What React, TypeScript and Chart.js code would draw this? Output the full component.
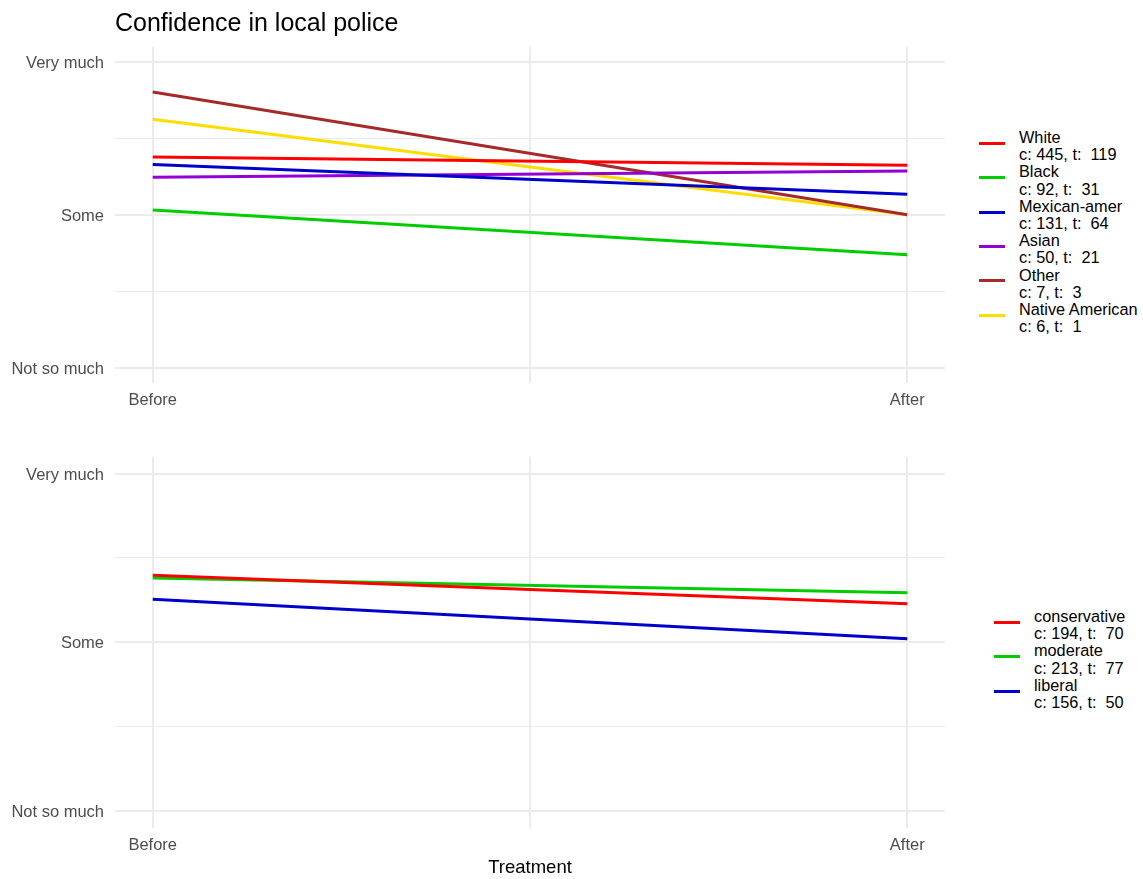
import React, { useEffect, useRef } from 'react';
import { Chart, registerables } from 'chart.js';

Chart.register(...registerables);

// ---- data ----
const xLabels = ['Before', 'After'];
const yLabels = ['Not so much', 'Some', 'Very much'];

const raceNames = ['White', 'Black', 'Mexican-amer', 'Asian', 'Other', 'Native American'];
const raceCounts = ['c: 445, t:  119', 'c: 92, t:  31', 'c: 131, t:  64', 'c: 50, t:  21', 'c: 7, t:  3', 'c: 6, t:  1'];
const raceColors = ['#FF0000', '#00CD00', '#0000CD', '#9400D3', '#A52A2A', '#FFDD00'];
const whiteVals = [2.379, 2.325];
const blackVals = [2.031, 1.739];
const mexicanVals = [2.329, 2.134];
const asianVals = [2.246, 2.287];
const otherVals = [2.803, 2.0];
const nativeVals = [2.626, 2.0];
const raceSeries = [whiteVals, blackVals, mexicanVals, asianVals, otherVals, nativeVals];

const ideoNames = ['conservative', 'moderate', 'liberal'];
const ideoCounts = ['c: 194, t:  70', 'c: 213, t:  77', 'c: 156, t:  50'];
const ideoColors = ['#FF0000', '#00CD00', '#0000CD'];
const conservativeVals = [2.397, 2.228];
const moderateVals = [2.381, 2.293];
const liberalVals = [2.254, 2.02];
const ideoSeries = [conservativeVals, moderateVals, liberalVals];

const FONT = '"Liberation Sans", Arial, Helvetica, sans-serif';
const GRID = '#EBEBEB';

function makeConfig(series: number[][], colors: string[], names: string[], opts: {
  padTop: number; xHeight: number; xTitle?: string;
}) {
  return {
    type: 'line' as const,
    data: {
      datasets: series.map((vals, i) => ({
        label: names[i],
        data: vals.map((v, j) => ({ x: j, y: v })),
        borderColor: colors[i],
        backgroundColor: colors[i],
        borderWidth: 3,
        pointRadius: 0,
        tension: 0,
      })),
    },
    options: {
      animation: false,
      responsive: false,
      devicePixelRatio: 1,
      layout: { padding: { top: opts.padTop, right: 15, left: 0, bottom: 0 } },
      plugins: { legend: { display: false }, tooltip: { enabled: false }, title: { display: false } },
      scales: {
        x: {
          type: 'linear',
          min: -0.05,
          max: 1.05,
          afterBuildTicks: (scale: any) => {
            scale.ticks = [{ value: 0 }, { value: 0.5 }, { value: 1 }];
          },
          afterFit: (scale: any) => {
            scale.height = opts.xHeight;
          },
          grid: { color: GRID, lineWidth: 2, drawTicks: false },
          border: { display: false },
          ticks: {
            padding: 8,
            maxRotation: 0,
            autoSkip: false,
            color: '#4D4D4D',
            font: { family: FONT, size: 16.5 },
            callback: (v: any) => (v === 0 ? xLabels[0] : v === 1 ? xLabels[1] : ''),
          },
          title: opts.xTitle
            ? { display: true, text: opts.xTitle, color: '#000000', font: { family: FONT, size: 18.5 }, padding: 0 }
            : { display: false },
        },
        y: {
          type: 'linear',
          min: 0.9,
          max: 3.1,
          afterBuildTicks: (scale: any) => {
            scale.ticks = [1, 1.5, 2, 2.5, 3].map((value) => ({ value }));
          },
          afterFit: (scale: any) => {
            scale.width = 115;
          },
          grid: {
            color: GRID,
            drawTicks: false,
            lineWidth: (ctx: any) => (ctx.tick && Number.isInteger(ctx.tick.value) ? 2 : 1),
          },
          border: { display: false },
          ticks: {
            padding: 11,
            labelOffset: 1.5,
            color: '#4D4D4D',
            font: { family: FONT, size: 16.5 },
            callback: (v: any) => (Number.isInteger(v) ? yLabels[v - 1] : ''),
          },
        },
      },
    },
  };
}

function Panel(props: { top: number; height: number; config: any }) {
  const ref = useRef<HTMLCanvasElement | null>(null);
  useEffect(() => {
    if (!ref.current) return;
    const chart = new Chart(ref.current, props.config);
    return () => chart.destroy();
  }, []);
  return (
    <canvas
      ref={ref}
      width={960}
      height={props.height}
      style={{ position: 'absolute', left: 0, top: props.top, width: 960, height: props.height }}
    />
  );
}

function Legend(props: { top: number; keyLeft: number; textLeft: number; names: string[]; counts: string[]; colors: string[] }) {
  return (
    <div style={{ position: 'absolute', left: 0, top: 0, width: 1143 }}>
      {props.names.map((n, i) => {
        const entryTop = props.top + i * 34.4;
        return (
          <React.Fragment key={n}>
            <div
              style={{
                position: 'absolute',
                left: props.keyLeft,
                top: Math.round(entryTop + 12.8),
                width: 26,
                height: 3,
                background: props.colors[i],
              }}
            />
            <div
              style={{
                position: 'absolute',
                left: props.textLeft,
                top: entryTop,
                fontFamily: FONT,
                fontSize: 16.3,
                lineHeight: '17.2px',
                color: '#000',
                whiteSpace: 'pre',
              }}
            >
              {n + '\n' + props.counts[i]}
            </div>
          </React.Fragment>
        );
      })}
    </div>
  );
}

export default function App() {
  const topCfg = makeConfig(raceSeries, raceColors, raceNames, { padTop: 46.7, xHeight: 47 });
  const botCfg = makeConfig(ideoSeries, ideoColors, ideoNames, { padTop: 26.7, xHeight: 51.3, xTitle: 'Treatment' });
  return (
    <div style={{ position: 'absolute', left: 0, top: 0, width: 1143, height: 879, background: '#fff', overflow: 'hidden' }}>
      <Panel top={0} height={430} config={topCfg} />
      <Panel top={430} height={449} config={botCfg} />
      <div
        style={{
          position: 'absolute',
          left: 115,
          top: 10,
          fontFamily: FONT,
          fontSize: 25,
          lineHeight: '25px',
          color: '#000',
          whiteSpace: 'pre',
        }}
      >
        Confidence in local police
      </div>
      <Legend top={129} keyLeft={979} textLeft={1019} names={raceNames} counts={raceCounts} colors={raceColors} />
      <Legend top={608} keyLeft={994} textLeft={1034} names={ideoNames} counts={ideoCounts} colors={ideoColors} />
    </div>
  );
}
